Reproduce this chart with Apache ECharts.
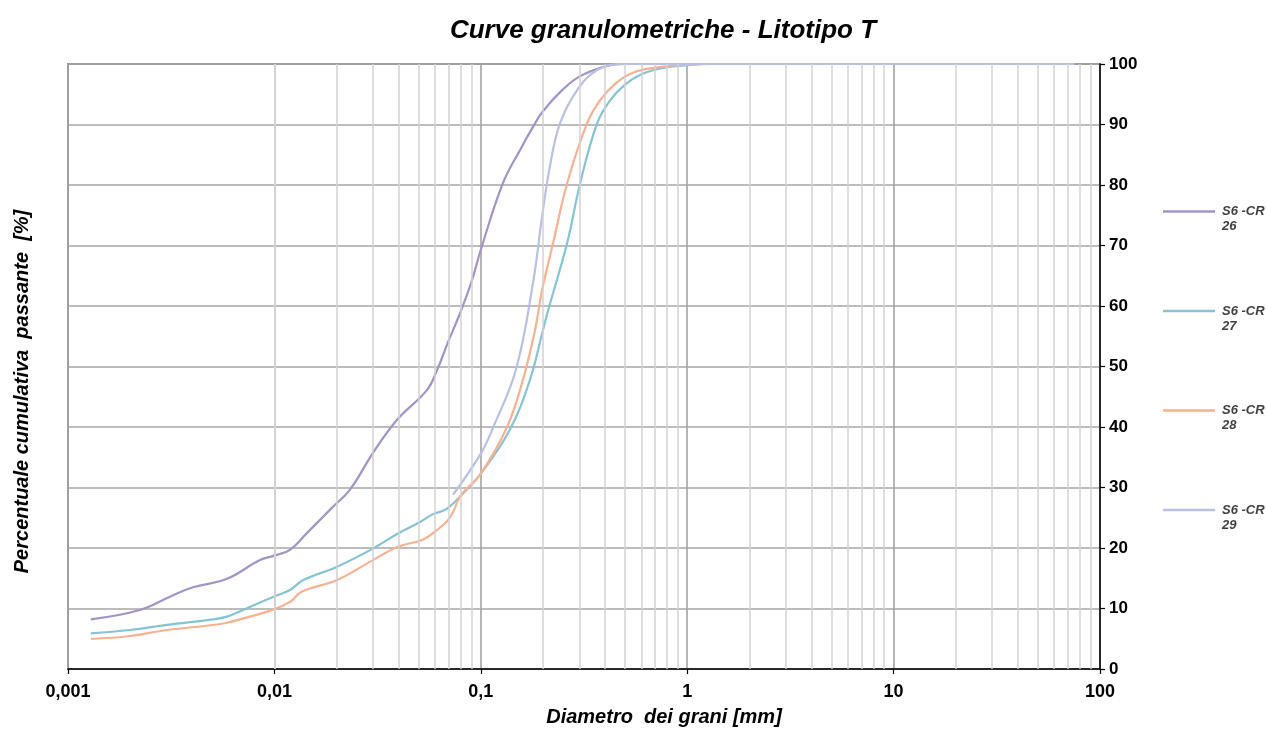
<!DOCTYPE html>
<html>
<head>
<meta charset="utf-8">
<script src="https://cdn.jsdelivr.net/npm/echarts@6/dist/echarts.min.js"></script>
<style>
  html, body { margin: 0; padding: 0; background: #fff; }
  #chart { width: 1266px; height: 731px; }
</style>
</head>
<body>
<div id="chart"></div>
<script>
// Grain diameters [mm] and cumulative passing [%] for each sample
const d26 = [0.00129, 0.00223, 0.00312, 0.00403, 0.00589, 0.00851, 0.0099, 0.0119, 0.0144, 0.0192, 0.0232, 0.030, 0.0393, 0.0548, 0.0614, 0.0693, 0.0793, 0.0907, 0.1, 0.128, 0.155, 0.179, 0.2, 0.25, 0.303, 0.41, 0.5, 1, 75];
const p26 = [8.2, 9.75, 11.95, 13.5, 14.9, 18.0, 18.7, 19.7, 22.5, 26.8, 29.6, 35.7, 41.2, 46.1, 49.4, 54.0, 58.8, 64.3, 69.3, 80.3, 85.8, 89.6, 92.2, 95.8, 98.0, 99.7, 100, 100, 100];

const d27 = [0.00129, 0.002, 0.00302, 0.00504, 0.00589, 0.00705, 0.0099, 0.0119, 0.0138, 0.0201, 0.030, 0.0397, 0.0508, 0.0587, 0.068, 0.0793, 0.1, 0.138, 0.173, 0.2, 0.212, 0.262, 0.303, 0.366, 0.423, 0.5, 0.6, 0.75, 1, 1.3, 75];
const p27 = [5.9, 6.45, 7.3, 8.2, 8.65, 9.75, 11.95, 13.06, 14.7, 16.9, 19.9, 22.4, 24.3, 25.6, 26.4, 28.5, 32.3, 39.5, 47.8, 56.0, 59.3, 70.4, 80.3, 90.2, 94.0, 96.6, 98.3, 99.3, 99.8, 100, 100];

const d28 = [0.00129, 0.002, 0.00302, 0.00504, 0.00589, 0.00762, 0.0099, 0.0119, 0.0136, 0.0201, 0.030, 0.0397, 0.0525, 0.0614, 0.0693, 0.074, 0.0793, 0.1, 0.134, 0.16, 0.183, 0.198, 0.224, 0.262, 0.327, 0.378, 0.45, 0.55, 0.7, 1, 1.3, 75];
const p28 = [4.96, 5.45, 6.45, 7.27, 7.65, 8.65, 9.86, 11.1, 12.8, 14.7, 18.0, 20.2, 21.4, 23.0, 24.6, 26.2, 28.5, 32.3, 40.0, 47.8, 56.0, 62.6, 70.4, 80.3, 90.2, 94.0, 96.8, 98.6, 99.4, 99.9, 100, 100];

const d29 = [0.0733, 0.1, 0.115, 0.148, 0.179, 0.198, 0.216, 0.242, 0.293, 0.366, 0.47, 1, 75];
const p29 = [28.8, 35.6, 40.0, 49.5, 63.8, 74.7, 83.0, 90.2, 95.7, 99.0, 100, 100, 100];

const seriesNames = ['S6 -CR 26', 'S6 -CR 27', 'S6 -CR 28', 'S6 -CR 29'];
const seriesColors = ['#a294c6', '#86c3d3', '#f8b191', '#b9c0e3'];

// Axis tick labels
const xTickValues = [0.001, 0.01, 0.1, 1, 10, 100];
const xTickLabels = ['0,001', '0,01', '0,1', '1', '10', '100'];

// Intermediate log grid lines (2..9 within each decade)
const minorGrid = [];
for (let k = 0; k < xTickValues.length - 1; k++) {
  for (let m = 2; m <= 9; m++) minorGrid.push(+(xTickValues[k] * m).toPrecision(3));
}

const FONT = 'Liberation Sans';
const pairs = (xs, ys) => xs.map((x, i) => [x, ys[i]]);
const allData = [pairs(d26, p26), pairs(d27, p27), pairs(d28, p28), pairs(d29, p29)];

const series = allData.map((data, i) => ({
  name: seriesNames[i],
  type: 'line',
  data: data,
  smooth: 0.4,
  showSymbol: false,
  symbol: 'none',
  lineStyle: { color: seriesColors[i], width: 2.2 },
  itemStyle: { color: seriesColors[i] },
  z: 3
}));

// Minor grid lines drawn through the x scale
series.push({
  name: 'minor',
  type: 'line',
  data: [],
  silent: true,
  z: 1,
  markLine: {
    silent: true,
    symbol: ['none', 'none'],
    label: { show: false },
    lineStyle: { color: '#d2d2d2', width: 1.5, type: 'solid' },
    emphasis: { disabled: true },
    data: minorGrid.map(v => ({ xAxis: v }))
  }
});

const chart = echarts.init(document.getElementById('chart'), null, { renderer: 'canvas' });
chart.setOption({
  animation: false,
  backgroundColor: '#ffffff',
  title: {
    text: 'Curve granulometriche - Litotipo T',
    left: 658,
    textAlign: 'center',
    top: 13,
    textStyle: { fontFamily: FONT, fontSize: 26, fontWeight: 'bold', fontStyle: 'italic', color: '#000' }
  },
  grid: {
    left: 68, right: 166, top: 64, bottom: 62,
    outerBoundsMode: 'none',
    containLabel: false,
    show: true, borderColor: '#8e8e8e', borderWidth: 2, backgroundColor: 'transparent'
  },
  legend: {
    orient: 'vertical',
    left: 1163,
    top: 189,
    padding: 0,
    itemGap: 54.5,
    itemWidth: 52,
    itemHeight: 2.5,
    icon: 'rect',
    data: seriesNames,
    formatter: name => '\n' + name.replace(/ (\d+)$/, '\n$1'),
    textStyle: {
      fontFamily: FONT, fontSize: 13, fontWeight: 'bold', fontStyle: 'italic',
      color: '#404040', lineHeight: 15, padding: [0, 0, 0, 2]
    }
  },
  xAxis: {
    type: 'log',
    logBase: 10,
    min: 0.001,
    max: 100,
    name: 'Diametro  dei grani [mm]',
    nameLocation: 'middle',
    nameGap: 38,
    nameTextStyle: {
      fontFamily: FONT, fontSize: 20, fontWeight: 'bold', fontStyle: 'italic', color: '#000',
      padding: [0, 0, 0, 160]
    },
    axisLine: { show: true, lineStyle: { color: '#000', width: 1.5 } },
    axisTick: { show: true, length: 5, lineStyle: { color: '#000', width: 1.2 } },
    axisLabel: {
      margin: 14,
      fontFamily: FONT, fontSize: 18, fontWeight: 'bold', color: '#000',
      formatter: v => {
        const i = xTickValues.findIndex(t => Math.abs(Math.log10(t) - Math.log10(v)) < 1e-6);
        return i >= 0 ? xTickLabels[i] : '';
      }
    },
    splitLine: { show: true, lineStyle: { color: '#a3a3a3', width: 1.6 } },
    minorTick: { show: false },
    minorSplitLine: { show: false }
  },
  yAxis: [{
    type: 'value',
    position: 'right',
    min: 0,
    max: 100,
    interval: 10,
    axisLine: { show: true, lineStyle: { color: '#000', width: 1.5 } },
    axisTick: { show: true, length: 5, lineStyle: { color: '#000', width: 1.2 } },
    axisLabel: { margin: 9, fontFamily: FONT, fontSize: 17, fontWeight: 'bold', color: '#000' },
    splitLine: { show: true, lineStyle: { color: '#a6a6a6', width: 1.5 } }
  }, {
    type: 'value',
    position: 'left',
    min: 0,
    max: 100,
    name: 'Percentuale cumulativa  passante  [%]',
    nameLocation: 'middle',
    nameGap: 36,
    nameRotate: 90,
    nameTextStyle: {
      fontFamily: FONT, fontSize: 20, fontWeight: 'bold', fontStyle: 'italic', color: '#000',
      padding: [0, 50, 0, 0]
    },
    axisLine: { show: false },
    axisTick: { show: false },
    axisLabel: { show: false },
    splitLine: { show: false }
  }],
  series: series
});
</script>
</body>
</html>
